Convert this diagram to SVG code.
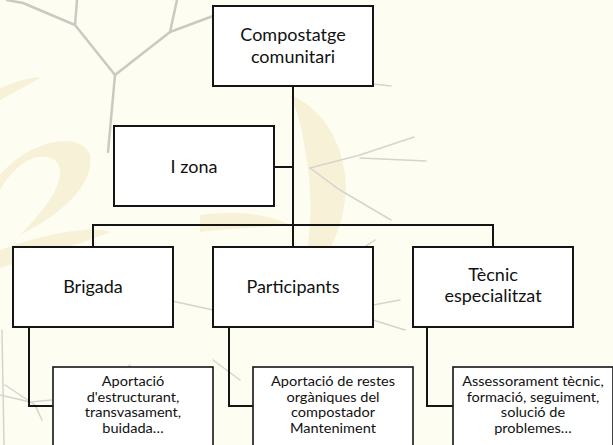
<svg xmlns="http://www.w3.org/2000/svg" width="613" height="445" viewBox="0 0 613 445">
<style>
.bg{fill:#FDFDF1}
.logo{fill:#F4EAC6;opacity:0.6}
.br{fill:none;stroke:#CACAC3;stroke-width:2.5;stroke-linecap:round;stroke-linejoin:round}
.brt{fill:none;stroke:#D5D5CE;stroke-width:1.5;stroke-linecap:round}
.box{fill:#FFFFFF;stroke:#151515;stroke-width:2}
.sub{fill:#FFFFFF;stroke:#151515;stroke-width:1.6}
.con{fill:none;stroke:#151515;stroke-width:2}
.t{font-family:Lato,"Liberation Sans",sans-serif;font-size:18px;fill:#111;text-anchor:middle}
.s{font-family:Lato,"Liberation Sans",sans-serif;font-size:13px;fill:#111;text-anchor:middle}
</style>
<rect class="bg" x="0" y="0" width="613" height="445"/>
<g id="background">
<path class="logo" d="M0,88 C20,80 35,76 40,78 C30,84 15,92 0,100 Z"/>
<path class="logo" d="M0,175 C30,140 80,130 90,155 C95,185 60,215 20,235 C50,205 70,175 55,160 C35,150 15,165 0,190 Z"/>
<path class="logo" d="M0,250 C40,235 90,225 110,232 C80,245 40,255 0,268 Z"/>
<path class="logo" d="M290,95 C330,110 350,160 345,200 C340,240 320,270 300,285 C310,250 315,200 305,150 C302,125 296,108 290,95 Z"/>
<path class="logo" d="M200,215 C240,210 270,215 290,225 C260,228 230,228 200,232 Z"/>
<path class="br" d="M7,0 L23,3 L75,25 L115,75 L108,152"/>
<path class="br" d="M75,25 L77,0"/>
<path class="br" d="M115,75 L170,32 L177,0"/>
<path class="br" d="M170,32 L213,16"/>
<path class="brt" d="M373,84 L391,86"/>
<path class="brt" d="M310,168 L360,155 L414,137"/>
<path class="brt" d="M310,168 L340,190 L391,220"/>
<path class="brt" d="M360,158 L426,161"/>
<path class="brt" d="M375,240 L345,260"/>
<path class="brt" d="M172,301 L213,310"/>
<path class="brt" d="M373,305 L400,300"/>
<path class="brt" d="M373,320 L405,330"/>
<path class="brt" d="M0,395 L30,402 L52,400"/>
<path class="brt" d="M5,385 L35,405 L42,420"/>
<path class="brt" d="M106,390 L130,365"/>
<path class="brt" d="M213,360 L240,380"/>
<path class="brt" d="M2,330 L4,445"/>
</g>
<g id="connectors">
<path class="con" d="M293,86 V247"/>
<path class="con" d="M93,247 V225 H493 V247"/>
<path class="con" d="M274,167 H293"/>
<path class="con" d="M29,327 V406 H53"/>
<path class="con" d="M229,327 V406 H253"/>
<path class="con" d="M427,327 V406 H453"/>
</g>
<g id="node-compostatge">
<rect class="box" x="213" y="6" width="160" height="80"/>
<text class="t" x="293" y="41">Compostatge<tspan x="293" dy="22">comunitari</tspan></text>
</g>
<g id="node-zona">
<rect class="box" x="114" y="126" width="160" height="80"/>
<text class="t" x="194" y="173">I zona</text>
</g>
<g id="node-brigada">
<rect class="box" x="13" y="247" width="160" height="80"/>
<text class="t" x="93" y="293">Brigada</text>
</g>
<g id="node-participants">
<rect class="box" x="213" y="247" width="160" height="80"/>
<text class="t" x="293" y="293">Participants</text>
</g>
<g id="node-tecnic">
<rect class="box" x="413" y="247" width="160" height="80"/>
<text class="t" x="493" y="281">Tècnic<tspan x="493" dy="21">especialitzat</tspan></text>
</g>
<g id="node-brigada-detail">
<rect class="sub" x="53" y="367" width="160" height="82"/>
<text class="s" transform="translate(133,0) scale(1.12,1)" x="0" y="386">Aportació<tspan x="0" dy="15.6">d'estructurant,</tspan><tspan x="0" dy="15.6">transvasament,</tspan><tspan x="0" dy="15.6">buidada…</tspan></text>
</g>
<g id="node-participants-detail">
<rect class="sub" x="253" y="367" width="160" height="82"/>
<text class="s" transform="translate(333,0) scale(1.12,1)" x="0" y="386">Aportació de restes<tspan x="0" dy="15.6">orgàniques del</tspan><tspan x="0" dy="15.6">compostador</tspan><tspan x="0" dy="15.6">Manteniment</tspan></text>
</g>
<g id="node-tecnic-detail">
<rect class="sub" x="453" y="367" width="160" height="82"/>
<text class="s" transform="translate(533,0) scale(1.12,1)" x="0" y="386">Assessorament tècnic,<tspan x="0" dy="15.6">formació, seguiment,</tspan><tspan x="0" dy="15.6">solució de</tspan><tspan x="0" dy="15.6">problemes…</tspan></text>
</g>
</svg>
